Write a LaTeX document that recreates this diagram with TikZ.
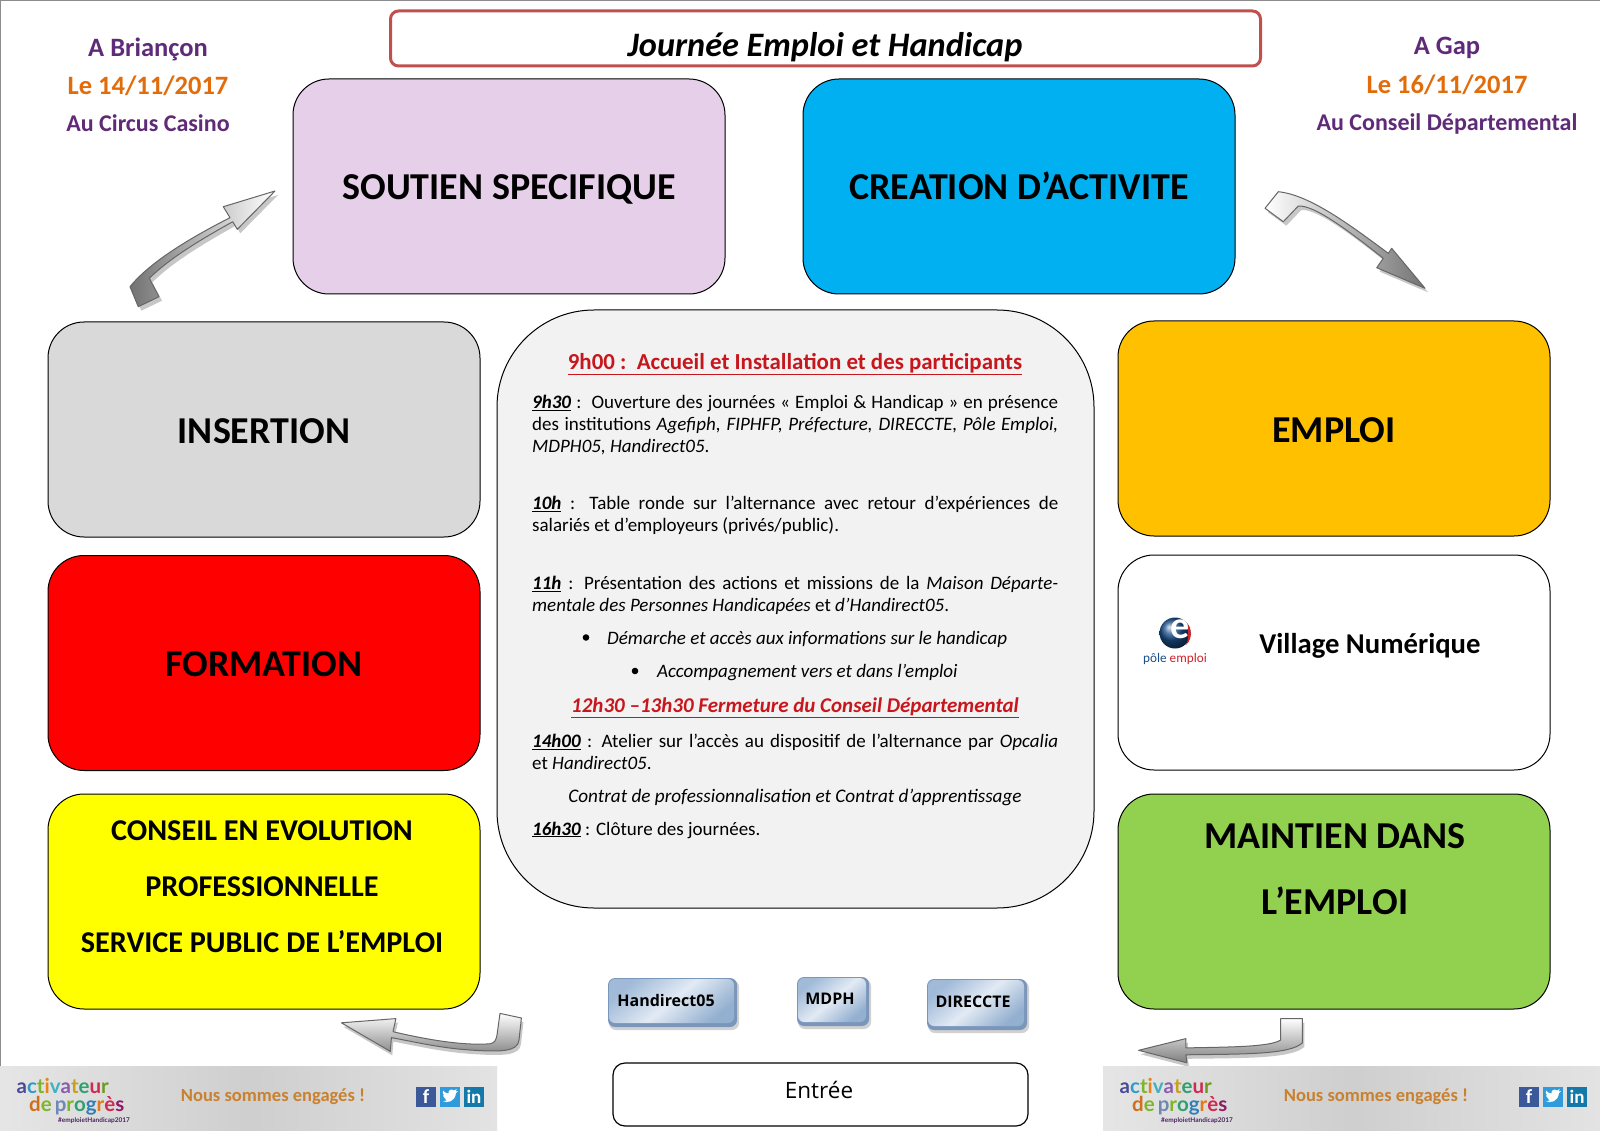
\documentclass[tikz,border=0pt]{standalone}
\usepackage{fontspec}
\setmainfont{Carlito}
\newfontfamily\opensans{Open Sans}
\newfontfamily\lato{Lato}
\usetikzlibrary{calc}
\definecolor{purp}{HTML}{5F2A78}
\definecolor{orng}{HTML}{E36C0A}
\definecolor{redtxt}{HTML}{C8161D}
\definecolor{titleline}{HTML}{C0504D}
\definecolor{footor}{HTML}{C9812F}
\definecolor{fbblue}{HTML}{3B5998}
\definecolor{twblue}{HTML}{2F9BDB}
\definecolor{liblue}{HTML}{1478A8}
\definecolor{poleblue}{HTML}{1B4F8A}
\definecolor{polered}{HTML}{D2232A}
\definecolor{cmauve}{RGB}{230,207,232}
\definecolor{ccyan}{RGB}{0,176,240}
\definecolor{cgrey}{RGB}{217,217,217}
\definecolor{cgold}{RGB}{255,192,0}
\definecolor{cgreen}{RGB}{146,208,80}
\definecolor{cpanel}{RGB}{242,242,242}
\definecolor{cyell}{RGB}{255,255,0}
\definecolor{cred}{RGB}{255,0,0}
\definecolor{chipedge}{RGB}{122,150,186}
\definecolor{chipa}{RGB}{160,186,216}
\definecolor{chipb}{RGB}{148,176,208}
\definecolor{chipc}{RGB}{226,234,244}
\tikzset{
  bigbox/.style={draw=black,line width=1pt,rounded corners=36pt,minimum width=432pt,minimum height=215pt,inner sep=0pt,align=center},
  biglab/.style={font=\fontsize{38}{42}\selectfont\bfseries,text=black,text height=30pt,text depth=3pt},
  side/.style={font=\fontsize{24}{26}\selectfont\bfseries,inner sep=0pt},
  sidebig/.style={font=\fontsize{26.5}{28}\selectfont\bfseries,inner sep=0pt},
  line/.style={anchor=north west,inner sep=0pt,text width=526pt,align=justify,font=\fontsize{19}{22}\selectfont},
  solo/.style={anchor=west,inner sep=0pt,font=\fontsize{19}{22}\selectfont},
  redhead/.style={inner sep=0pt,text=redtxt,font=\fontsize{22.9}{24}\selectfont\bfseries},
  blockarrow/.style={draw=black!60,line width=1pt,line join=round},
  arrowshadow/.style={fill=black!22,draw=none},
  chipback/.style={fill=#1,draw=none,rounded corners=7pt},
  chiptxt/.style={inner sep=0pt,font=\opensans\fontsize{16}{18}\selectfont\bfseries},
  logoa/.style={inner sep=0pt,anchor=base west,font=\lato\fontsize{20.5}{22}\selectfont\bfseries},
  iconsq/.style={minimum width=20pt,minimum height=20pt,inner sep=0pt,text=white,font=\fontsize{20}{20}\selectfont\bfseries}
}
\newcommand{\hr}[1]{\underline{\textbf{\textit{#1}}}}
\newcommand{\footerblock}[2]{%
  \begin{scope}[xshift=#2pt]
    \shade[left color=black!10,right color=black!19] (0,1066) rectangle (250,1130);
    \shade[left color=black!19,right color=black!11] (250,1066) rectangle (497,1130);
    \node[logoa] (#1a1) at (16.5,1093) {\textcolor[HTML]{4A4A96}{a}\textcolor[HTML]{2F9BC8}{c}\textcolor[HTML]{7FB52A}{t}\textcolor[HTML]{E8841A}{i}\textcolor[HTML]{3FB0C0}{v}\textcolor[HTML]{8A5CB0}{a}\textcolor[HTML]{C8A020}{t}\textcolor[HTML]{2FA070}{e}\textcolor[HTML]{D02A50}{u}\textcolor[HTML]{6F9A20}{r}};
    \node[logoa] (#1a2) at (29,1111) {\textcolor[HTML]{D0701A}{d}\textcolor[HTML]{7FB52A}{e}\hspace{3pt}\textcolor[HTML]{7088B8}{p}\textcolor[HTML]{7FB52A}{r}\textcolor[HTML]{2FA070}{o}\textcolor[HTML]{2F80B8}{g}\textcolor[HTML]{E07A1A}{r}\textcolor[HTML]{D02A50}{è}\textcolor[HTML]{8E1A66}{s}};
    \node[inner sep=0pt,text=purp!80!black,font=\lato\fontsize{6.5}{7}\selectfont\bfseries] (#1tag) at (94,1121) {\#emploietHandicap2017};
    \node[inner sep=0pt,text=footor,font=\fontsize{18.5}{22}\selectfont\bfseries] (#1txt) at (273,1097) {Nous sommes engagés !};
    \node[iconsq,fill=fbblue] (#1fb) at (426,1097) {f};
    \node[iconsq,fill=twblue] (#1tw) at (450,1097) {};
    \fill[white,shift={(0,-5)}] (442.5,1106) .. controls (447,1108.5) and (455,1107) .. (456,1098) -- (458,1096) -- (455.5,1096.5) -- (456.8,1094) -- (454,1095.5) .. controls (451,1093) and (447.5,1096) .. (448.5,1098.5) .. controls (446,1098.5) and (444,1097) .. (443,1095.5) .. controls (442,1097.5) and (443,1099.5) .. (444.5,1100.5) -- (443,1100.2) .. controls (443,1102) and (444.5,1103) .. (446,1103.5) -- (444.5,1103.7) .. controls (445,1104.5) and (446,1105) .. (447,1105.2) .. controls (446,1106) and (444,1106.2) .. (442.5,1106) -- cycle;
    \node[iconsq,fill=liblue,font=\fontsize{19}{20}\selectfont\bfseries] (#1li) at (474,1097) {in};
  \end{scope}}
\newcommand{\chip}[4]{% x1,y1,x2,y2
  \fill[chipback=black!18] (#1+1,#2+2) rectangle (#3+2,#4+3);
  \fill[chipback=chipedge] (#1,#2) rectangle (#3,#4);
  \shade[rounded corners=6pt,top color=chipa,bottom color=chipb,middle color=chipc,shading angle=40] (#1+1,#2+1) rectangle (#3-3,#4-4);
}
\begin{document}
\begin{tikzpicture}[x=1pt,y=-1pt]
\useasboundingbox (0,0) rectangle (1600,1131);
\fill[white] (0,0) rectangle (1600,1131);
\draw[black!45,line width=1pt] (0.5,1066) -- (0.5,0.5) -- (1600,0.5);
% title
\node[draw=titleline,line width=3pt,rounded corners=8pt,minimum width=870pt,minimum height=55pt,inner sep=0pt] (title) at (825.5,38.5) {};
\node[inner sep=0pt,font=\fontsize{34.3}{36}\selectfont\bfseries\itshape] (titletxt) at (825,47) {Journée Emploi et Handicap};
% sides
\node[sidebig,text=purp] (s1) at (148,49) {A Briançon};
\node[sidebig,text=orng] (s2) at (148,86) {Le 14/11/2017};
\node[side,text=purp] (s3) at (148,123) {Au Circus Casino};
\node[sidebig,text=purp] (g1) at (1447,48) {A Gap};
\node[sidebig,text=orng] (g2) at (1447,85) {Le 16/11/2017};
\node[side,text=purp] (g3) at (1447,124) {Au Conseil Départemental};
% big boxes
\node[bigbox,biglab,fill=cmauve] (soutien) at (509,186.5) {SOUTIEN SPECIFIQUE};
\node[bigbox,biglab,fill=ccyan] (creation) at (1019,186.5) {CREATION D’ACTIVITE};
\node[bigbox,biglab,fill=cgrey] (insertion) at (264,429.5) {INSERTION};
\node[bigbox,biglab,fill=cred] (formation) at (264,663) {FORMATION};
\node[bigbox,fill=cyell] (conseil) at (264,901.5) {};
\node[inner sep=0pt,font=\fontsize{30.2}{56}\selectfont\bfseries,align=center] (conseiltxt) at (262,886.5) {CONSEIL EN EVOLUTION\\PROFESSIONNELLE\\SERVICE PUBLIC DE L’EMPLOI};
\node[bigbox,biglab,fill=cgold] (emploi) at (1334,428.5) {EMPLOI};
\node[bigbox,fill=white] (village) at (1334,662.5) {};
\node[inner sep=0pt,font=\fontsize{28.7}{32}\selectfont\bfseries] (villagetxt) at (1370,646) {Village Numérique};
\node[bigbox,fill=cgreen] (maintien) at (1334,901.5) {};
\node[inner sep=0pt,font=\fontsize{38}{66}\selectfont\bfseries,align=center] (maintientxt) at (1335,869.5) {MAINTIEN DANS\\L’EMPLOI};
% pole emploi logo
\shade[ball color=poleblue,draw=none] (1175,633) circle (15.5);
\fill[polered] (1181,620) .. controls (1192,622) and (1194,638) .. (1186,645) .. controls (1190,637) and (1189,625) .. (1181,620) -- cycle;
\node[inner sep=0pt,text=white,font=\fontsize{38}{38}\selectfont\bfseries] (polee) at (1180,629) {e};
\node[inner sep=0pt,font=\fontsize{13.2}{16}\selectfont] (poletxt) at (1175,659) {\textcolor{poleblue}{pôle} \textcolor{polered}{emploi}};
% centre
\node[draw=black,line width=1pt,fill=cpanel,rounded corners=97pt,minimum width=597pt,minimum height=598pt,inner sep=0pt] (centre) at (795.5,609) {};
\node[redhead] (h1) at (795,364) {\underline{9h00 :\ \ Accueil et Installation et des participants}};
\node[line] (p1) at (532,395) {\hr{9h30} :\ \ Ouverture des journées « Emploi \& Handicap » en présence\linebreak des institutions \textit{Agefiph, FIPHFP, Préfecture, DIRECCTE, Pôle Emploi,}\linebreak \textit{MDPH05, Handirect05}.};
\node[line] (p2) at (532,496) {\hr{10h} : Table ronde sur l’alternance avec retour d’expériences de\linebreak salariés et d’employeurs (privés/public).};
\node[line] (p3) at (532,576) {\hr{11h} : Présentation des actions et missions de la \textit{Maison Départe-}\linebreak \textit{mentale des Personnes Handicapées} et \textit{d’Handirect05}.};
\fill[black] (586,637.5) circle (3.3);
\node[solo] (b1) at (607,639) {\textit{Démarche et accès aux informations sur le handicap}};
\fill[black] (635,671) circle (3.3);
\node[solo] (b2) at (657,672.5) {\textit{Accompagnement vers et dans l’emploi}};
\node[redhead,font=\fontsize{21}{24}\selectfont\bfseries\itshape] (h2) at (795,708) {\underline{12h30 –13h30 Fermeture du Conseil Départemental}};
\node[line] (p4) at (532,734) {\hr{14h00} : Atelier sur l’accès au dispositif de l’alternance par \textit{Opcalia}\linebreak et \textit{Handirect05}.};
\node[inner sep=0pt,font=\fontsize{19.2}{22}\selectfont\itshape] (contrat) at (795,797) {Contrat de professionnalisation et Contrat d’apprentissage};
\node[solo] (p5) at (532,830) {\hr{16h30} : Clôture des journées.};
% chips
\chip{608}{978}{737}{1027}
\node[chiptxt] (chip1) at (666,1000) {Handirect05};
\chip{797}{977}{869}{1026}
\node[chiptxt] (chip2) at (830,999) {MDPH};
\chip{927}{979}{1027}{1030}
\node[chiptxt] (chip3) at (973,1002) {DIRECCTE};
% entree
\node[draw=black,line width=1.2pt,rounded corners=12pt,minimum width=415pt,minimum height=63pt,inner sep=0pt,fill=white] (entreebox) at (820.5,1094.5) {};
\node[inner sep=0pt,font=\opensans\fontsize{22.5}{24}\selectfont] (entree) at (819,1090) {Entrée};
% arrows
\newcommand{\arrA}{(275,191) -- (223.3,206.7) -- (230,217.7) .. controls (190,238) and (150,262) .. (130,286.7) -- (138.3,306.7) -- (159,296.7) -- (149.3,278.3) .. controls (170,258) and (200,240) .. (232.7,221.7) -- (237.3,229.3) -- cycle}
\newcommand{\arrB}{(1265,208.3) -- (1278.3,191.7) .. controls (1310,195) and (1350,225) .. (1388.3,253.3) -- (1391.7,248.3) -- (1425,288.3) -- (1376.7,267.7) -- (1383.3,258.3) .. controls (1350,232) and (1315,205) .. (1298.3,206) -- (1283.3,221.7) -- cycle}
\newcommand{\arrC}{(500,1013.4) -- (521.4,1018) -- (519,1040) .. controls (518,1052) and (500,1052) .. (470,1050) .. controls (440,1048) and (415,1042) .. (391.4,1037.6) -- (390.3,1051.4) -- (341.4,1022.8) -- (395.9,1018.6) -- (393,1031.7) .. controls (420,1038) and (460,1046) .. (489.7,1043.8) .. controls (495,1043) and (496,1040) .. (497,1035) -- cycle}
\newcommand{\arrD}{(1280.7,1018.6) -- (1302.4,1018.6) -- (1302.4,1042.8) .. controls (1290,1055) and (1240,1054) .. (1185.9,1054.8) -- (1186.9,1062.8) -- (1138.6,1050.3) -- (1185.9,1038.6) -- (1185.9,1047.9) .. controls (1230,1047) and (1270,1047) .. (1280.7,1040) -- cycle}
\fill[arrowshadow,shift={(3,4)}] \arrA;
\fill[arrowshadow,shift={(3,4)}] \arrB;
\fill[arrowshadow,shift={(2,4)}] \arrC;
\fill[arrowshadow,shift={(2,4)}] \arrD;
\shade[left color=black!55,middle color=white,right color=white] \arrA;
\draw[blockarrow] \arrA;
\shade[left color=white,middle color=white,right color=black!55] \arrB;
\draw[blockarrow] \arrB;
\shade[top color=white,bottom color=black!45] \arrC;
\draw[blockarrow] \arrC;
\shade[top color=white,bottom color=black!50] \arrD;
\draw[blockarrow] \arrD;
% footers
\footerblock{fl}{0}
\footerblock{fr}{1103}
\end{tikzpicture}
\end{document}
